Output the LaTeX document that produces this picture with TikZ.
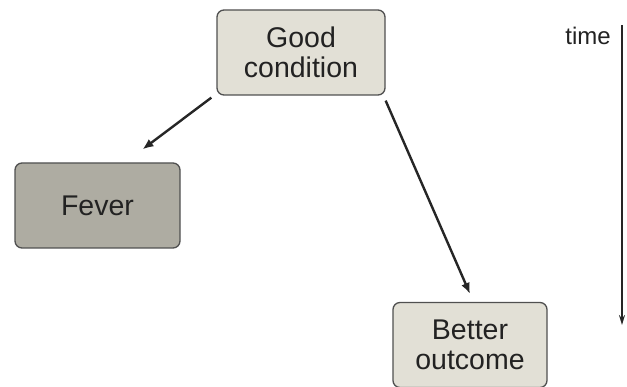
\documentclass[tikz,border=0pt]{standalone}
\usepackage{fontspec}
\setmainfont{Liberation Sans}
\usetikzlibrary{arrows.meta}

\definecolor{lightfill}{HTML}{E2E0D6}
\definecolor{darkfill}{HTML}{AEACA2}
\definecolor{edgegray}{HTML}{505050}
\definecolor{inkgray}{HTML}{222222}

\begin{document}
\begin{tikzpicture}[
  x=1pt, y=1pt,
  font=\fontsize{28.5}{30}\selectfont,
  text=inkgray,
  state/.style={
    draw=edgegray,
    rounded corners=7pt,
    line width=1.3pt,
    fill=lightfill,
    align=center,
    inner sep=0pt
  },
  darkstate/.style={
    state,
    fill=darkfill
  },
  arrow/.style={-{Latex[length=11pt,width=9pt]}, line width=2.4pt, draw=black!85},
  timearrow/.style={-{Stealth[length=10pt,width=6pt]}, line width=1.8pt, draw=black!85}
]

\useasboundingbox (0,0) rectangle (627,-387);

\node[state, minimum width=168, minimum height=85] (good) at (301,-52.5)
  {Good\\condition};
\node[darkstate, minimum width=165, minimum height=85] (fever) at (97.5,-205.5)
  {Fever};
\node[state, minimum width=154, minimum height=85] (better) at (470,-345)
  {Better\\outcome};

\coordinate (timetop) at (622,-25);
\coordinate (timebottom) at (622,-325);
\node[anchor=north east, inner sep=0pt, font=\fontsize{24}{28}\selectfont] (time)
  at (611,-27) {time};

\draw[arrow] ([xshift=-5,yshift=-2]good.south west) -- ([xshift=45,yshift=13]fever.north);
\draw[arrow] ([xshift=0,yshift=-5]good.south east) -- ([yshift=8]better.north);
\draw[timearrow] (timetop) -- (timebottom);

\end{tikzpicture}
\end{document}
